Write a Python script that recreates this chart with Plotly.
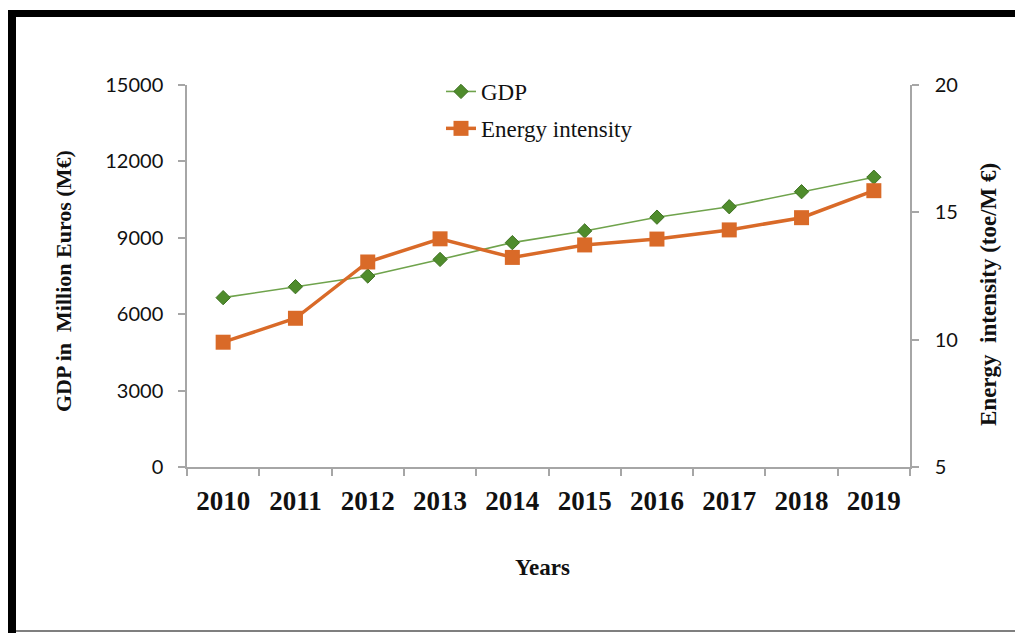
import plotly.graph_objects as go

# Annual data
years = ["2010", "2011", "2012", "2013", "2014", "2015", "2016", "2017", "2018", "2019"]
gdp = [6650, 7080, 7500, 8150, 8810, 9270, 9810, 10220, 10810, 11380]
energy_intensity = [9.9, 10.84, 13.05, 13.96, 13.23, 13.72, 13.95, 14.31, 14.79, 15.85]
gdp_ticks = [0, 3000, 6000, 9000, 12000, 15000]
gdp_tick_labels = ["0", "3000", "6000", "9000", "12000", "15000"]
ei_ticks = [5, 10, 15, 20]

W, H = 1015, 633
L, R, T, B = 187, 910, 85, 467  # plot area in pixels


def px(x):
    return (x - L) / (R - L)


def py(y):
    return (B - y) / (B - T)


AXIS = "#a6a6a6"
GREEN_LINE = "#6fa34c"
GREEN_MK = "#4f8c2c"
GREEN_EDGE = "#3d7020"
ORANGE = "#d96a28"

fig = go.Figure()
fig.add_trace(go.Scatter(
    x=years, y=gdp, name="GDP", mode="lines+markers",
    line=dict(color=GREEN_LINE, width=1.6),
    marker=dict(symbol="diamond", size=11, color=GREEN_MK,
                line=dict(color=GREEN_EDGE, width=1)),
    legendgroup="a", yaxis="y",
))
fig.add_trace(go.Scatter(
    x=years, y=energy_intensity, name="Energy intensity", mode="lines+markers",
    line=dict(color=ORANGE, width=3.5),
    marker=dict(symbol="square", size=15, color=ORANGE),
    legendgroup="b", yaxis="y2",
))

tick_font = dict(family="Lato", size=20, color="#111111")

fig.update_layout(
    width=W, height=H, autosize=False,
    margin=dict(l=L, r=W - R, t=T, b=H - B),
    paper_bgcolor="white", plot_bgcolor="white",
    showlegend=True,
    legend=dict(
        x=px(441), y=py(70), xanchor="left", yanchor="top",
        font=dict(family="Liberation Serif", size=23, color="#111111"),
        traceorder="grouped", tracegroupgap=4,
        bgcolor="rgba(0,0,0,0)",
    ),
    xaxis=dict(
        type="category", range=[-0.5, 9.5],
        showline=True, linecolor=AXIS, linewidth=1.5,
        ticks="outside", tickson="boundaries", ticklen=7, tickcolor=AXIS, tickwidth=1.5,
        tickfont=dict(family="Liberation Serif", size=27, color="#111111", weight="bold"),
        ticklabelstandoff=9,
        showgrid=False, zeroline=False,
    ),
    yaxis=dict(
        range=[0, 15000], tickvals=gdp_ticks, ticktext=gdp_tick_labels,
        showline=True, linecolor=AXIS, linewidth=1.5,
        ticks="outside", ticklen=7, tickcolor=AXIS, tickwidth=1.5,
        tickfont=tick_font, ticklabelstandoff=11,
        showgrid=False, zeroline=False,
    ),
    yaxis2=dict(
        range=[5, 20], tickvals=ei_ticks, overlaying="y", side="right",
        showline=True, linecolor=AXIS, linewidth=1.5,
        ticks="outside", ticklen=7, tickcolor=AXIS, tickwidth=1.5,
        tickfont=tick_font, ticklabelstandoff=12,
        showgrid=False, zeroline=False,
    ),
)

title_font = dict(family="Liberation Serif", size=22, color="#111111", weight="bold")
fig.add_annotation(text="GDP in  Million Euros (M€)", x=px(63), y=py(281),
                   xref="paper", yref="paper", textangle=-90, showarrow=False,
                   font=title_font, xanchor="center", yanchor="middle")
fig.add_annotation(text="Energy  intensity (toe/M €)", x=px(988), y=py(295),
                   xref="paper", yref="paper", textangle=-90, showarrow=False,
                   font=dict(family="Liberation Serif", size=23, color="#111111", weight="bold"),
                   xanchor="center", yanchor="middle")
fig.add_annotation(text="Years", x=px(542), y=py(567),
                   xref="paper", yref="paper", showarrow=False,
                   font=dict(family="Liberation Serif", size=23, color="#111111", weight="bold"),
                   xanchor="center", yanchor="middle")

# Frame around the figure
fig.add_shape(type="rect", xref="paper", yref="paper",
              x0=px(8), x1=px(W + 5), y0=py(17), y1=py(10),
              fillcolor="black", line=dict(width=0), layer="above")
fig.add_shape(type="rect", xref="paper", yref="paper",
              x0=px(8), x1=px(16), y0=py(H + 5), y1=py(10),
              fillcolor="black", line=dict(width=0), layer="above")
fig.add_shape(type="line", xref="paper", yref="paper",
              x0=px(16), x1=px(W + 5), y0=py(631), y1=py(631),
              line=dict(color="#7f7f7f", width=2), layer="above")

fig.write_html("out.html")
